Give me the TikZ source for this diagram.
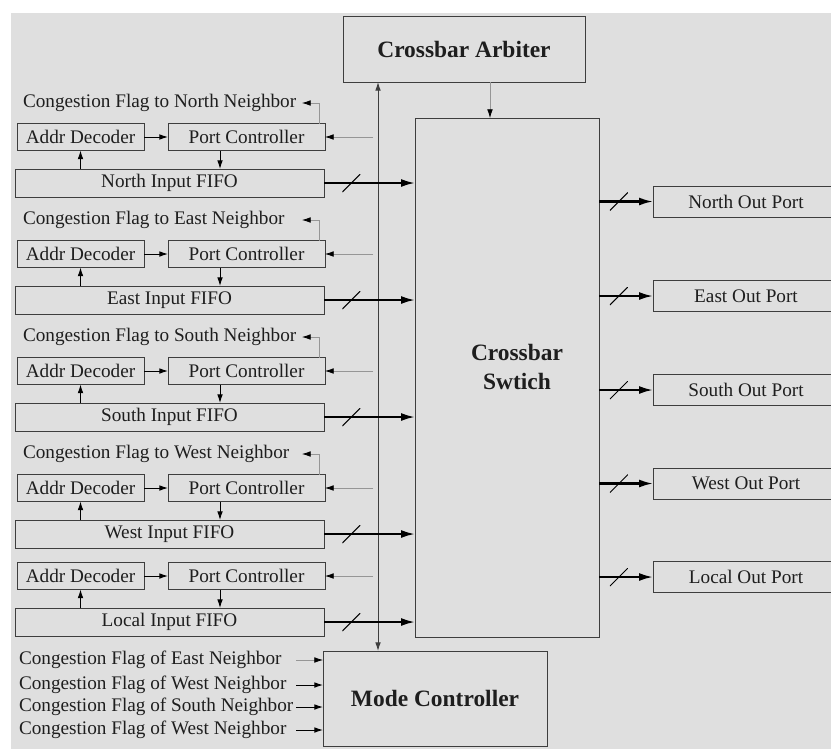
\documentclass[tikz,border=0pt]{standalone}
\usepackage{fontspec}
\setmainfont{Liberation Serif}
\usetikzlibrary{arrows.meta,calc,positioning}
\definecolor{rtback}{RGB}{223,223,223}
\definecolor{rtline}{RGB}{62,62,62}
\definecolor{rtwire}{RGB}{150,150,150}
\definecolor{rttext}{RGB}{30,30,30}

\begin{document}
\begin{tikzpicture}[x=0.3mm,y=-0.3mm,>={Latex[length=2.6mm,width=1.7mm]},font=\fontsize{16.4}{18}\selectfont,
    every node/.style={align=center,inner sep=0pt,outer sep=0pt,text=rttext},
    blk/.style={draw=rtline,line width=0.8pt,minimum height=8.1mm},
    fifo/.style={blk,minimum width=92.7mm,minimum height=8.4mm},
    dec/.style={blk,minimum width=38.1mm},
    pctl/.style={blk,minimum width=47.1mm},
    outp/.style={blk,minimum width=55.8mm,minimum height=9.3mm},
    big/.style={draw=rtline,line width=0.8pt,font=\fontsize{20}{25}\selectfont\bfseries},
    wire/.style={->,line width=0.8pt,black},
    gwire/.style={-{Latex[length=2.6mm,width=1.7mm,color=black]},line width=0.6pt,rtwire},
    datab/.style={-{Latex[length=4.2mm,width=2.4mm]},line width=1.8pt,black},
    busmark/.style={minimum size=5.4mm,path picture={\draw[-,line width=0.9pt,black] (path picture bounding box.south west)--(path picture bounding box.north east);}}]
  \fill[rtback] (11,13) rectangle (831,749);
  \useasboundingbox (0,0) rectangle (831,749);
  % x positions shared by the input groups
  \coordinate (pcx) at (220,0);
  \coordinate (flx) at (319,0);
  \coordinate (flend) at (302,0);
  \coordinate (busx) at (373,0);
  \coordinate (bus) at (378,0);
  \coordinate (abx) at (490,0);
  \coordinate (mix) at (296,0);

  % arbiter, switch and mode controller
  \node[big,minimum width=72.6mm,minimum height=19.8mm] (arb) at (464,49) {Crossbar Arbiter};
  \node[big,minimum width=55.2mm,minimum height=155.7mm] (sw) at (507,377.5) {};
  \node[font=\fontsize{20}{25}\selectfont\bfseries] (swtxt) at (517,367) {Crossbar\\Swtich};
  \node[big,minimum width=67.2mm,minimum height=28.5mm] (mode) at (435,698.5) {Mode Controller};
  \draw[<->,line width=0.8pt,rtline] (arb.south -| bus) -- (mode.north -| bus);
  \draw[gwire] (arb.south -| abx) -- (sw.north -| abx);

  % north input
  \node[anchor=west] (nflag) at (23,103) {Congestion Flag to North Neighbor};
  \node[dec] (ndec) at (80.5,137) {Addr Decoder};
  \node[pctl] (npc) at (246.5,137) {Port Controller};
  \node[fifo] (nfifo) at (169.5,183) {North Input FIFO};
  \draw[wire] (ndec) -- (npc);
  \draw[wire] (npc.south -| pcx) -- (nfifo.north -| pcx);
  \draw[wire] (nfifo.north -| ndec) -- (ndec);
  \draw[gwire] (npc.north -| flx) |- (nflag -| flend);
  \draw[gwire] (npc -| busx) -- (npc.east);
  \draw[datab] (nfifo.east) -- node[busmark,pos=.3]{} (nfifo -| sw.west);

  % east input
  \node[anchor=west] (eflag) at (23,220) {Congestion Flag to East Neighbor};
  \node[dec] (edec) at (80.5,254) {Addr Decoder};
  \node[pctl] (epc) at (246.5,254) {Port Controller};
  \node[fifo] (efifo) at (169.5,300) {East Input FIFO};
  \draw[wire] (edec) -- (epc);
  \draw[wire] (epc.south -| pcx) -- (efifo.north -| pcx);
  \draw[wire] (efifo.north -| edec) -- (edec);
  \draw[gwire] (epc.north -| flx) |- (eflag -| flend);
  \draw[gwire] (epc -| busx) -- (epc.east);
  \draw[datab] (efifo.east) -- node[busmark,pos=.3]{} (efifo -| sw.west);

  % south input
  \node[anchor=west] (sflag) at (23,337) {Congestion Flag to South Neighbor};
  \node[dec] (sdec) at (80.5,371) {Addr Decoder};
  \node[pctl] (spc) at (246.5,371) {Port Controller};
  \node[fifo] (sfifo) at (169.5,417) {South Input FIFO};
  \draw[wire] (sdec) -- (spc);
  \draw[wire] (spc.south -| pcx) -- (sfifo.north -| pcx);
  \draw[wire] (sfifo.north -| sdec) -- (sdec);
  \draw[gwire] (spc.north -| flx) |- (sflag -| flend);
  \draw[gwire] (spc -| busx) -- (spc.east);
  \draw[datab] (sfifo.east) -- node[busmark,pos=.3]{} (sfifo -| sw.west);

  % west input
  \node[anchor=west] (wflag) at (23,454) {Congestion Flag to West Neighbor};
  \node[dec] (wdec) at (80.5,488) {Addr Decoder};
  \node[pctl] (wpc) at (246.5,488) {Port Controller};
  \node[fifo] (wfifo) at (169.5,534) {West Input FIFO};
  \draw[wire] (wdec) -- (wpc);
  \draw[wire] (wpc.south -| pcx) -- (wfifo.north -| pcx);
  \draw[wire] (wfifo.north -| wdec) -- (wdec);
  \draw[gwire] (wpc.north -| flx) |- (wflag -| flend);
  \draw[gwire] (wpc -| busx) -- (wpc.east);
  \draw[datab] (wfifo.east) -- node[busmark,pos=.3]{} (wfifo -| sw.west);

  % local input
  \node[dec] (ldec) at (80.5,576) {Addr Decoder};
  \node[pctl] (lpc) at (246.5,576) {Port Controller};
  \node[fifo] (lfifo) at (169.5,622) {Local Input FIFO};
  \draw[wire] (ldec) -- (lpc);
  \draw[wire] (lpc.south -| pcx) -- (lfifo.north -| pcx);
  \draw[wire] (lfifo.north -| ldec) -- (ldec);
  \draw[gwire] (lpc -| busx) -- (lpc.east);
  \draw[datab] (lfifo.east) -- node[busmark,pos=.3]{} (lfifo -| sw.west);

  % output ports
  \node[outp] (nout) at (746,201.5) {North Out Port};
  \node[outp] (eout) at (746,296) {East Out Port};
  \node[outp] (sout) at (746,390) {South Out Port};
  \node[outp] (wout) at (746,483.5) {West Out Port};
  \node[outp] (lout) at (746,577) {Local Out Port};
  \draw[datab] (nout -| sw.east) -- node[busmark,pos=.37]{} (nout.west);
  \draw[datab] (eout -| sw.east) -- node[busmark,pos=.37]{} (eout.west);
  \draw[datab] (sout -| sw.east) -- node[busmark,pos=.37]{} (sout.west);
  \draw[datab] (wout -| sw.east) -- node[busmark,pos=.37]{} (wout.west);
  \draw[datab] (lout -| sw.east) -- node[busmark,pos=.37]{} (lout.west);

  % congestion flags into the mode controller
  \node[anchor=west] (cf1) at (19,660) {Congestion Flag of East Neighbor};
  \node[anchor=west] (cf2) at (19,685) {Congestion Flag of West Neighbor};
  \node[anchor=west] (cf3) at (19,707) {Congestion Flag of South Neighbor};
  \node[anchor=west] (cf4) at (19,730) {Congestion Flag of West Neighbor};
  \draw[gwire] (cf1 -| mix) -- (cf1 -| mode.west);
  \draw[wire] (cf2 -| mix) -- (cf2 -| mode.west);
  \draw[wire] (cf3 -| mix) -- (cf3 -| mode.west);
  \draw[wire] (cf4 -| mix) -- (cf4 -| mode.west);
\end{tikzpicture}
\end{document}
